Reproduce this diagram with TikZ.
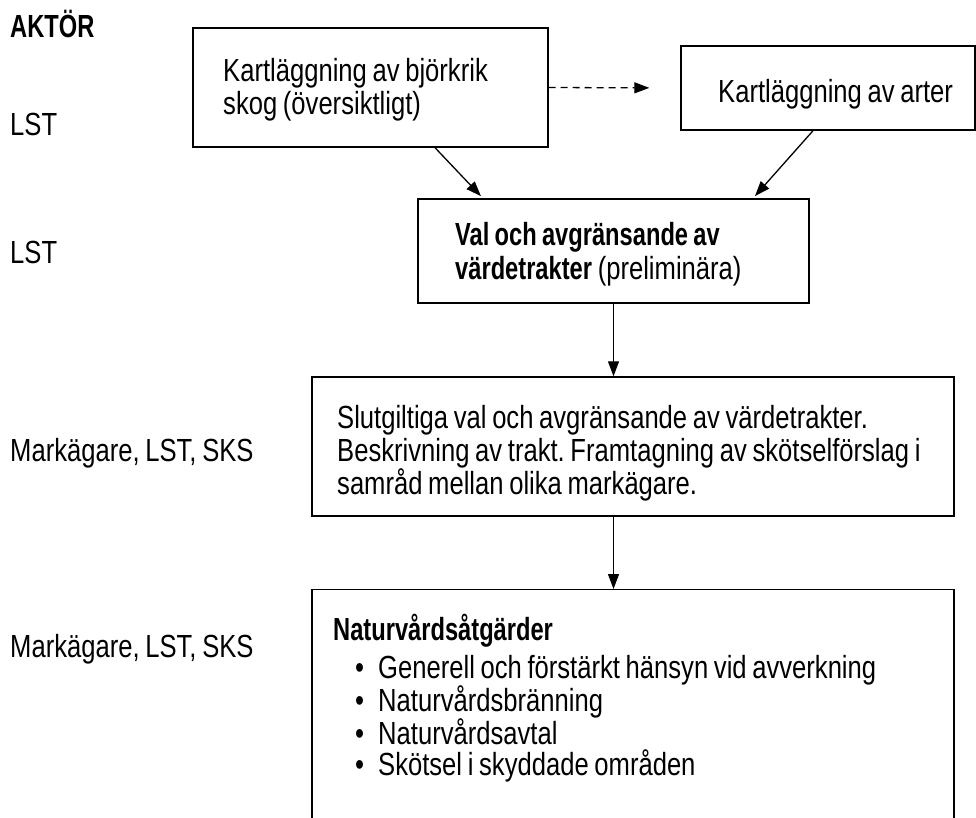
\documentclass[tikz,border=0pt]{standalone}
\usepackage{fontspec}
\setmainfont{Liberation Sans}[FakeStretch=0.80,WordSpace=0.8,BoldFeatures={FakeStretch=0.74}]
\usetikzlibrary{arrows.meta}
\frenchspacing

\begin{document}
\begin{tikzpicture}[x=1pt,y=-1pt,
        box/.style={draw,line width=1.4pt,inner sep=0pt},
        txt/.style={inner sep=0pt,anchor=base west,align=flush left,font=\fontsize{32pt}{33pt}\selectfont},
        arr/.style={line width=1.3pt,-{Triangle[length=15pt,width=11pt]}}]
            \useasboundingbox (0,0) rectangle (976,818);
            \clip (0,0) rectangle (976,818);

            \node[box,minimum width=355pt,minimum height=119pt] (kartbjork) at (370.5,87.5) {};
            \node[box,minimum width=294pt,minimum height=84pt] (kartarter) at (828,88) {};
            \node[box,minimum width=391pt,minimum height=104pt] (valprel) at (613.5,251) {};
            \node[box,minimum width=642pt,minimum height=139pt] (slutval) at (633,446.5) {};
            \node[box,minimum width=642pt,minimum height=260pt,anchor=north] (atgard) at (633,589) {};

            \node[txt] (aktor) at (10,38) {\textbf{AKTÖR}};
            \node[txt] (akt1) at (10,136) {LST};
            \node[txt] (akt2) at (10,263) {LST};
            \node[txt] (akt3) at (10,461) {Markägare, LST, SKS};
            \node[txt] (akt4) at (10,657) {Markägare, LST, SKS};

            \node[txt,text width=400pt] (kartbjorktxt) at (223,82) {Kartläggning av björkrik\\skog (översiktligt)};
            \node[txt] (kartartertxt) at (718,103) {Kartläggning av arter};
            \node[txt,text width=400pt] (valpreltxt) at (455,246) {\textbf{Val och avgränsande av}\\\textbf{värdetrakter} (preliminära)};
            \node[txt,text width=640pt] (slutvaltxt) at (337,428) {Slutgiltiga val och avgränsande av värdetrakter.\\Beskrivning av trakt. Framtagning av skötselförslag i\\samråd mellan olika markägare.};
            \node[txt,text width=640pt,font=\fontsize{32pt}{31pt}\selectfont] (atgardtxt) at (333,640) {\textbf{Naturvårdsåtgärder}\\[7pt]
                \hspace*{22pt}\makebox[23pt][l]{\textbullet}Generell och förstärkt hänsyn vid avverkning\\
                \hspace*{22pt}\makebox[23pt][l]{\textbullet}Naturvårdsbränning\\
                \hspace*{22pt}\makebox[23pt][l]{\textbullet}Naturvårdsavtal\\
                \hspace*{22pt}\makebox[23pt][l]{\textbullet}Skötsel i skyddade områden};

            \draw[arr,dash pattern=on 7pt off 5pt,shorten >=31pt] (kartbjork.east) -- (kartarter.west);
            \draw[arr,shorten >=3pt] ([xshift=64.5pt]kartbjork.south) -- ([xshift=-130.5pt]valprel.north);
            \draw[arr,shorten >=3pt] ([xshift=-15pt]kartarter.south) -- ([xshift=139.5pt]valprel.north);
            \draw[arr] (valprel.south) -- (valprel.south |- slutval.north);
            \draw[arr] (valprel.south |- slutval.south) -- (valprel.south |- atgard.north);
        \end{tikzpicture}
\end{document}
